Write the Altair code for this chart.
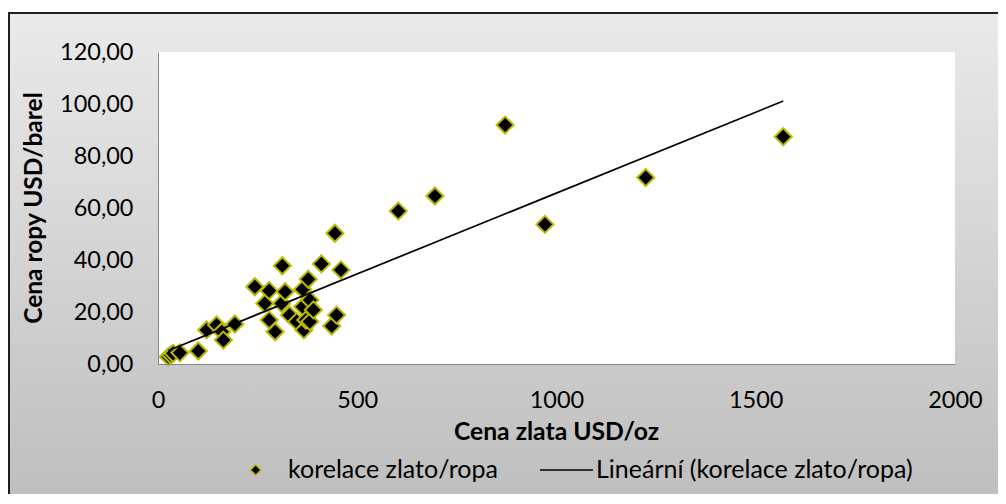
import altair as alt
import pandas as pd

# ---- data ----
gold = [26, 32, 38, 55, 101, 122, 147, 160, 164, 193, 243, 268, 279, 279, 294,
        310, 312, 319, 330, 348, 363, 363, 366, 371, 377, 381, 381, 390, 410,
        436, 444, 448, 459, 603, 695, 871, 971, 1224, 1569]
oil = [2.8, 3.5, 4.1, 4.3, 5.0, 13.1, 15.0, 12.4, 9.2, 15.4, 29.7, 23.3, 28.2, 16.9, 12.4,
       23.3, 37.8, 27.8, 18.8, 16.3, 28.7, 22.0, 13.1, 16.9, 32.6, 24.6, 16.3, 20.8, 38.5,
       14.6, 50.3, 18.8, 36.2, 58.8, 64.6, 91.9, 53.7, 71.7, 87.4]
x_ticks = [0, 500, 1000, 1500, 2000]
y_ticks = [0, 20, 40, 60, 80, 100, 120]
x_title = "Cena zlata USD/oz"
y_title = "Cena ropy USD/barel"
series_name = "korelace zlato/ropa"
trend_name = "Lineární (korelace zlato/ropa)"

df = pd.DataFrame({"gold": gold, "oil": oil})
one = alt.Data(values=[{}])

W, H = 797, 312
FONT = "Lato"
YEL = "#b9b900"

xs = alt.Scale(domain=[0, 2000], nice=False)
ys = alt.Scale(domain=[0, 120], nice=False)

bg = alt.Chart(one).mark_rect(
    fill=alt.LinearGradient(
        gradient="linear",
        stops=[alt.GradientStop(color="#eaeaea", offset=0),
               alt.GradientStop(color="#bdbdbd", offset=1)],
        x1=0, x2=0, y1=0, y2=1),
    stroke="#1e1e1e", strokeWidth=2,
).encode(x=alt.value(-149), x2=alt.value(860), y=alt.value(-39), y2=alt.value(460))

plot_bg = alt.Chart(one).mark_rect(fill="white").encode(
    x=alt.value(0), x2=alt.value(W), y=alt.value(0), y2=alt.value(H))

points = alt.Chart(df).mark_point(
    shape="diamond", filled=True, fill="black", stroke=YEL, strokeWidth=2,
    size=290, opacity=1, fillOpacity=1, strokeOpacity=1,
).encode(
    x=alt.X("gold:Q", scale=xs,
            axis=alt.Axis(values=x_ticks, format="d", title=None, labelPadding=24,
                          labelFlush=False, zindex=1)),
    y=alt.Y("oil:Q", scale=ys,
            axis=alt.Axis(values=y_ticks, title=None, labelPadding=25, zindex=1,
                          labelFlush=False,
                          labelExpr="replace(format(datum.value, '.2f'), '.', ',')")),
)

trend = alt.Chart(df).transform_regression("gold", "oil").mark_line(
    color="black", strokeWidth=1.7
).encode(x=alt.X("gold:Q", scale=xs), y=alt.Y("oil:Q", scale=ys))

ytitle = alt.Chart(one).mark_text(
    text=y_title, angle=270, font=FONT, fontSize=24.5, fontWeight="bold",
    align="center", baseline="middle", color="black",
).encode(x=alt.value(-123), y=alt.value(H / 2))

xtitle = alt.Chart(one).mark_text(
    text=x_title, font=FONT, fontSize=24.7, fontWeight="bold",
    align="center", baseline="middle", color="black",
).encode(x=alt.value(W / 2), y=alt.value(381))

leg_sym = alt.Chart(one).mark_point(
    shape="diamond", filled=True, fill="black", stroke=YEL, strokeWidth=1.5,
    size=110, opacity=1,
).encode(x=alt.value(97.7), y=alt.value(418))

leg_txt1 = alt.Chart(one).mark_text(
    text=series_name, font=FONT, fontSize=25, align="left", baseline="middle",
    color="black",
).encode(x=alt.value(130), y=alt.value(418))

leg_rule = alt.Chart(one).mark_rule(color="black", strokeWidth=1.5).encode(
    x=alt.value(382), x2=alt.value(435), y=alt.value(418))

leg_txt2 = alt.Chart(one).mark_text(
    text=trend_name, font=FONT, fontSize=25, align="left", baseline="middle",
    color="black",
).encode(x=alt.value(438), y=alt.value(418))

chart = alt.layer(
    bg, plot_bg, points, trend, ytitle, xtitle, leg_sym, leg_txt1, leg_rule, leg_txt2
).properties(
    width=W, height=H,
    padding={"left": 150, "top": 44, "right": 43, "bottom": 130},
    autosize=alt.AutoSizeParams(type="none"),
).configure_view(stroke=None).configure_axis(
    labelFont=FONT, labelFontSize=23.5, labelColor="black",
    domainColor="#868686", domainWidth=1, ticks=False, tickSize=0, grid=False,
)

chart.save("out.html", embed_options={"renderer": "svg", "actions": False})
